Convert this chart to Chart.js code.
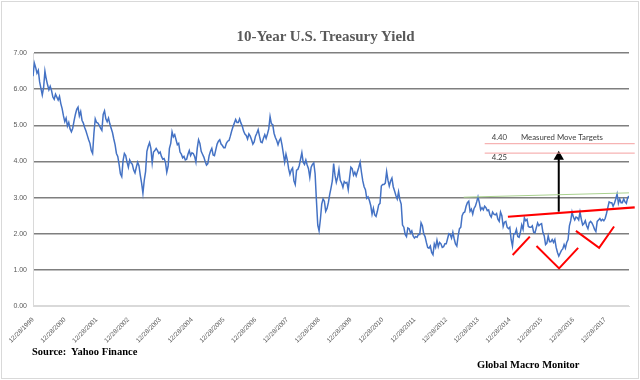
<!DOCTYPE html>
<html>
<head>
<meta charset="utf-8">
<script src="https://cdn.jsdelivr.net/npm/chart.js@4/dist/chart.umd.min.js"></script>
<style>
  body { margin: 0; background: #fff; }
  #wrap { position: relative; width: 640px; height: 380px; }
  #frame { position: absolute; left: 1px; top: 1px; width: 636px; height: 376px; border: 1px solid #d9d9d9; pointer-events: none; }
  .txt { position: absolute; font-family: 'Liberation Serif', serif; font-weight: bold; white-space: nowrap; }
  #title { left: 0; width: 651px; text-align: center; top: 28px; font-size: 15px; color: #595959; }
  #source { left: 32px; top: 346px; font-size: 10.5px; color: #000; }
  #brand { left: 477px; top: 359px; font-size: 10.5px; color: #000; }
</style>
</head>
<body>
<div id="wrap">
  <canvas id="chart" width="640" height="380"></canvas>
  <div id="frame"></div>
  <div class="txt" id="title">10-Year U.S. Treasury Yield</div>
  <div class="txt" id="source">Source:&nbsp; Yahoo Finance</div>
  <div class="txt" id="brand">Global Macro Monitor</div>
</div>
<script>
// 10-year yield, two readings a month starting 12/28/1999
const yields = [6.36,
  // 2000
  6.72, 6.60, 6.44, 6.52, 6.20, 6.02, 5.84, 6.04, 6.50, 6.28, 6.12, 5.98,
  6.08, 5.96, 5.78, 5.72, 5.86, 5.78, 5.70, 5.80, 5.60, 5.46, 5.26, 5.10,
  // 2001
  5.20, 4.98, 5.08, 4.90, 4.82, 4.92, 5.12, 5.30, 5.44, 5.50, 5.26, 5.38,
  5.14, 5.06, 4.94, 4.84, 4.72, 4.60, 4.50, 4.30, 4.22, 4.78, 5.18, 5.08,
  // 2002
  5.06, 5.00, 4.92, 4.86, 5.30, 5.40, 5.18, 5.10, 5.20, 5.04, 4.92, 4.80,
  4.62, 4.46, 4.22, 4.14, 3.92, 3.66, 3.58, 4.02, 4.22, 4.16, 3.98, 3.84,
  // 2003
  4.04, 3.96, 3.92, 3.76, 3.68, 3.84, 3.98, 3.88, 3.62, 3.40, 3.12, 3.48,
  3.72, 4.28, 4.42, 4.52, 4.36, 3.96, 4.26, 4.30, 4.36, 4.30, 4.22, 4.26,
  // 2004
  4.14, 4.06, 4.08, 3.98, 3.70, 3.86, 4.36, 4.50, 4.82, 4.68, 4.74, 4.60,
  4.46, 4.50, 4.26, 4.20, 4.10, 4.14, 4.04, 4.06, 4.20, 4.30, 4.16, 4.24,
  // 2005
  4.22, 4.14, 3.98, 4.36, 4.60, 4.50, 4.28, 4.20, 4.12, 4.00, 3.90, 3.94,
  4.16, 4.28, 4.36, 4.18, 4.16, 4.32, 4.48, 4.56, 4.60, 4.48, 4.44, 4.38,
  // 2006
  4.38, 4.50, 4.56, 4.58, 4.70, 4.84, 4.96, 5.06, 5.16, 5.08, 5.08, 5.18,
  5.06, 4.98, 4.84, 4.76, 4.72, 4.62, 4.76, 4.70, 4.60, 4.48, 4.54, 4.70,
  // 2007
  4.78, 4.88, 4.70, 4.54, 4.52, 4.64, 4.74, 4.64, 4.76, 4.90, 5.24, 5.04,
  5.02, 4.78, 4.66, 4.58, 4.46, 4.58, 4.64, 4.46, 4.22, 3.98, 4.20, 4.04,
  // 2008
  3.80, 3.64, 3.76, 3.82, 3.46, 3.36, 3.76, 3.78, 3.88, 4.06, 4.24, 3.98,
  3.92, 4.04, 3.90, 3.80, 3.56, 3.84, 3.92, 3.96, 3.66, 2.92, 2.24, 2.08,
  // 2009
  2.40, 2.82, 2.96, 2.90, 2.62, 2.70, 2.86, 3.08, 3.26, 3.46, 3.94, 3.62,
  3.42, 3.56, 3.78, 3.48, 3.40, 3.28, 3.44, 3.40, 3.42, 3.22, 3.54, 3.84,
  // 2010
  3.80, 3.62, 3.70, 3.60, 3.72, 3.84, 3.98, 3.70, 3.46, 3.30, 3.22, 2.98,
  3.02, 2.92, 2.78, 2.54, 2.70, 2.52, 2.48, 2.62, 2.80, 2.84, 3.32, 3.36,
  // 2011
  3.36, 3.40, 3.72, 3.48, 3.32, 3.46, 3.54, 3.30, 3.18, 3.06, 2.96, 3.16,
  2.94, 2.82, 2.24, 2.18, 1.98, 1.92, 2.16, 2.14, 2.02, 2.08, 1.94, 1.88,
  // 2012
  1.92, 1.90, 1.98, 1.98, 2.30, 2.22, 2.00, 1.92, 1.76, 1.62, 1.60, 1.66,
  1.48, 1.42, 1.72, 1.62, 1.82, 1.64, 1.76, 1.72, 1.62, 1.64, 1.72, 1.72,
  // 2013
  1.86, 2.00, 1.98, 1.88, 2.04, 1.86, 1.72, 1.66, 1.94, 2.14, 2.18, 2.50,
  2.58, 2.60, 2.76, 2.86, 2.90, 2.62, 2.68, 2.54, 2.70, 2.76, 2.88, 3.02,
  // 2014
  2.86, 2.66, 2.72, 2.66, 2.76, 2.72, 2.64, 2.66, 2.52, 2.46, 2.60, 2.54,
  2.52, 2.56, 2.40, 2.34, 2.60, 2.50, 2.20, 2.32, 2.34, 2.18, 2.14, 2.18,
  // 2015
  1.84, 1.66, 2.00, 2.00, 2.12, 1.92, 1.90, 2.04, 2.24, 2.12, 2.44, 2.36,
  2.40, 2.20, 2.18, 2.18, 2.22, 2.04, 2.02, 2.16, 2.30, 2.22, 2.26, 2.28,
  // 2016
  2.04, 1.94, 1.70, 1.74, 1.94, 1.78, 1.78, 1.84, 1.76, 1.84, 1.62, 1.48,
  1.38, 1.46, 1.54, 1.58, 1.70, 1.60, 1.76, 1.84, 2.22, 2.36, 2.60, 2.46,
  // 2017
  2.38, 2.46, 2.44, 2.38, 2.60, 2.40, 2.24, 2.28, 2.36, 2.22, 2.14, 2.30,
  2.34, 2.30, 2.22, 2.12, 2.06, 2.34, 2.38, 2.42, 2.36, 2.40, 2.36, 2.42,
  // 2018
  2.56, 2.72, 2.88, 2.86, 2.86, 2.76, 2.84, 2.96, 3.10, 2.84, 2.96, 2.86,
  2.86, 2.96, 2.88, 2.84, 3.00, 3.04
];

const pointsPerYear = 24;
const tickLabels = ['12/28/1999', '12/28/2000', '12/28/2001', '12/28/2002', '12/28/2003',
  '12/28/2004', '12/28/2005', '12/28/2006', '12/28/2007', '12/28/2008', '12/28/2009',
  '12/28/2010', '12/28/2011', '12/28/2012', '12/28/2013', '12/28/2014', '12/28/2015',
  '12/28/2016', '12/28/2017'];
const yTicks = [0, 1, 2, 3, 4, 5, 6, 7];

// chart annotations, in (years since 12/28/1999, yield)
const necklineX = [14.94, 18.93];
const necklineY = [2.47, 2.73];
const resistanceX = [13.55, 18.75];
const resistanceY = [3.01, 3.13];
const targetX = [14.21, 18.93];
const targetLevels = [4.49, 4.23];
const arrowX = [16.54, 16.54];
const arrowY = [2.61, 4.13];
const leftShoulderX = [15.09, 15.63];
const leftShoulderY = [1.41, 1.92];
const headX = [15.84, 16.55, 17.15];
const headY = [1.66, 1.04, 1.61];
const rightShoulderX = [17.08, 17.81, 18.28];
const rightShoulderY = [2.08, 1.61, 2.20];
const noteTexts = ['4.40', 'Measured Move Targets', '4.25'];
const noteX = [14.43, 15.35, 14.43];
const noteY = [4.65, 4.65, 4.10];

const xy = (xs, ys) => xs.map((x, i) => ({ x: x, y: ys[i] }));
const seriesData = yields.map((v, i) => ({ x: i / pointsPerYear, y: v }));

function markLine(data, color, width) {
    return {
        data: data,
        borderColor: color,
        borderWidth: width,
        pointRadius: 0,
        clip: false,
        order: 0
    };
}

const datasets = [
    {
        data: seriesData,
        borderColor: '#4472C4',
        borderWidth: 1.5,
        pointRadius: 0,
        order: 10
    },
    markLine(xy(resistanceX, resistanceY), '#a9d18e', 1),
    markLine(xy(targetX, [targetLevels[0], targetLevels[0]]), '#f4a0a0', 1),
    markLine(xy(targetX, [targetLevels[1], targetLevels[1]]), '#f4a0a0', 1),
    markLine(xy(necklineX, necklineY), '#ff0000', 2.2),
    markLine(xy(leftShoulderX, leftShoulderY), '#ff0000', 2),
    markLine(xy(headX, headY), '#ff0000', 2),
    markLine(xy(rightShoulderX, rightShoulderY), '#ff0000', 2),
    {
        data: xy(arrowX, arrowY),
        borderColor: '#000',
        borderWidth: 2,
        pointRadius: [0, 4],
        pointStyle: 'triangle',
        pointBackgroundColor: '#000',
        pointBorderColor: '#000',
        clip: false,
        order: 0
    }
];

// text notes next to the target lines
const notesPlugin = {
    id: 'notes',
    afterDatasetsDraw(chart) {
        const ctx = chart.ctx;
        const xs = chart.scales.x;
        const ys = chart.scales.y;
        ctx.save();
        ctx.font = '7.8px Lato, sans-serif';
        ctx.fillStyle = '#404040';
        ctx.textBaseline = 'middle';
        noteTexts.forEach((t, i) => {
            ctx.fillText(t, xs.getPixelForValue(noteX[i]), ys.getPixelForValue(noteY[i]));
        });
        ctx.restore();
    }
};

const ctx = document.getElementById('chart').getContext('2d');
new Chart(ctx, {
    type: 'line',
    data: { datasets: datasets },
    plugins: [notesPlugin],
    options: {
        responsive: false,
        animation: false,
        layout: { padding: { top: 53, right: 11, left: 0, bottom: 0 } },
        plugins: {
            legend: { display: false },
            tooltip: { enabled: false },
            title: { display: false }
        },
        scales: {
            x: {
                type: 'linear',
                min: 0,
                max: (yields.length - 1) / pointsPerYear,
                afterBuildTicks: s => { s.ticks = tickLabels.map((l, i) => ({ value: i })); },
                afterFit: s => { s.height = 74; },
                grid: { display: false },
                border: { display: true, color: '#d9d9d9' },
                ticks: {
                    autoSkip: false,
                    minRotation: 45,
                    maxRotation: 45,
                    padding: 2,
                    color: '#595959',
                    font: { family: 'Liberation Sans', size: 6.5 },
                    callback: (v, i) => tickLabels[i]
                }
            },
            y: {
                min: 0,
                max: 7,
                afterBuildTicks: s => { s.ticks = yTicks.map(v => ({ value: v })); },
                afterFit: s => { s.width = 33; },
                grid: {
                    drawTicks: false,
                    color: c => c.tick && c.tick.value === 0 ? '#d9d9d9' : '#7f7f7f',
                    lineWidth: 1.4
                },
                border: { display: true, color: '#d9d9d9' },
                ticks: {
                    padding: 6,
                    color: '#595959',
                    font: { family: 'Liberation Sans', size: 7 },
                    callback: v => v.toFixed(2)
                }
            }
        }
    }
});
</script>
</body>
</html>
